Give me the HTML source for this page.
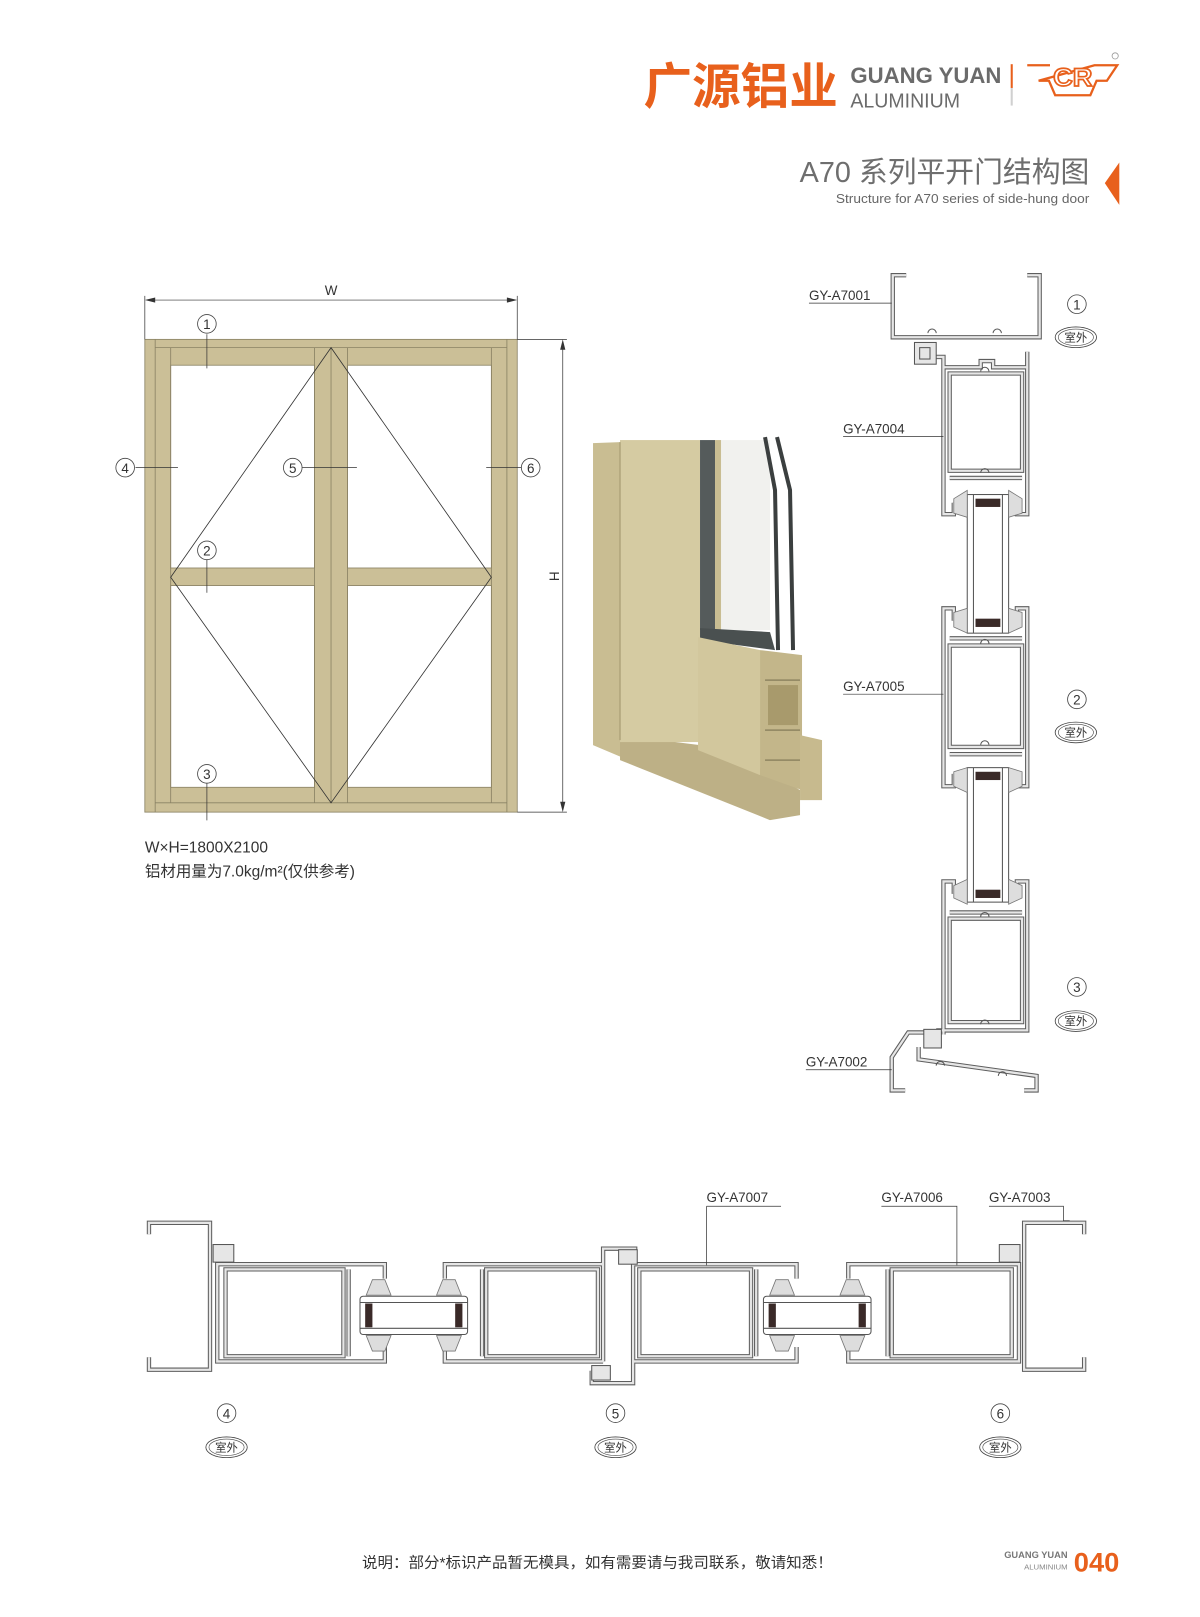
<!DOCTYPE html>
<html><head><meta charset="utf-8">
<style>
html,body{margin:0;padding:0;background:#fff;}
svg{display:block;}
.t{font-family:"Liberation Sans","Noto Sans CJK SC",sans-serif;}
.o{fill:none;stroke:#5e5e5e;stroke-width:4.2;stroke-linejoin:miter;}
.i{fill:none;stroke:#e6e6e6;stroke-width:2.2;stroke-linejoin:miter;}
</style></head>
<body>
<svg width="1200" height="1617" viewBox="0 0 1160 1563" xmlns="http://www.w3.org/2000/svg">
<defs>
<path id="v" d="M876,266 H863 V326 H1005 V266 H993
M905,345 H912 V497 H922 V486 M993,340 V497 H983 V486
M912,355 H948 V349 H960 V355 H993
M918,361 H988 V455 H918 Z M918,462 H988
M922,600 V588 H912 V760 H922 V748 M983,600 V588 H993 V760 H983 V748
M918,624 H988 V722 H918 Z M918,617 H988 M918,729 H988
M922,864 V852 H912 V1000 M983,864 V852 H993 V996 H905
M918,888 H988 V988 H918 Z M918,882 H988
M875,1054 H862 V1022 L878,998 H897 V1012 M888,1012 V1024 L1002,1040 V1054 H990"/>
<path id="h" d="M144,1193 V1182 H203 V1324 H144 V1312
M372,1236 V1222 H210 V1316 H372 V1302 M218,1227 V1311 H332 V1227 Z M337,1227 V1311
M430,1236 V1222 H583 M430,1302 V1316 H583 M466,1227 V1311 M470,1227 H578 V1311 H470 Z
M583,1316 V1207 H614 V1218 M612,1222 V1337 H572 V1325
M770,1236 V1222 H612 M770,1302 V1316 H612 M618,1227 H726 V1311 H618 Z M731,1227 V1311
M820,1236 V1222 H985 V1316 H820 V1302 M858,1227 V1311 M862,1227 H978 V1311 H862 Z
M1048,1193 V1182 H990 V1324 H1048 V1312"/>
</defs>

<!-- HEADER -->
<text class="t" x="622" y="100" font-size="47" font-weight="bold" fill="#e8601c" textLength="188" lengthAdjust="spacingAndGlyphs" style="font-family:'Noto Sans CJK SC',sans-serif">广源铝业</text>
<text class="t" x="822" y="80" font-size="21" font-weight="bold" fill="#6b6b6b" textLength="146" lengthAdjust="spacingAndGlyphs">GUANG YUAN</text>
<text class="t" x="822" y="104" font-size="20" fill="#6b6b6b" textLength="106" lengthAdjust="spacingAndGlyphs">ALUMINIUM</text>
<line x1="978" y1="62" x2="978" y2="85" stroke="#e8601c" stroke-width="2"/>
<line x1="978" y1="85" x2="978" y2="102" stroke="#d0d0d0" stroke-width="2"/>
<g fill="none" stroke="#e8601c" stroke-width="2.2">
<path d="M993,63 H1015 M1058,63 H1080 L1070,78 H1060 L1054,92 H1020 L1014,78 H1004 Z"/>
</g>
<text x="1037" y="83" font-family="Liberation Sans,sans-serif" font-size="24" font-weight="bold" fill="#fff" stroke="#e8601c" stroke-width="1.6" text-anchor="middle" textLength="38" lengthAdjust="spacingAndGlyphs">CR</text>
<circle cx="1078" cy="54" r="3" fill="none" stroke="#999" stroke-width="0.8"/>
<text class="t" x="1053" y="176" font-size="28" fill="#6e6e6e" text-anchor="end" textLength="280" lengthAdjust="spacingAndGlyphs">A70 系列平开门结构图</text>
<text class="t" x="1053" y="196" font-size="12.5" fill="#666" text-anchor="end" textLength="245" lengthAdjust="spacingAndGlyphs">Structure for A70 series of side-hung door</text>
<polygon points="1082,157 1082,198 1068,177" fill="#e8601c"/>

<!-- FRAME ELEVATION -->
<g stroke="#8a8264" stroke-width="0.8">
<rect x="140" y="328" width="360" height="457" fill="#cbbf97"/>
<rect x="165" y="353" width="139" height="196" fill="#fff"/>
<rect x="165" y="566" width="139" height="195" fill="#fff"/>
<rect x="336" y="353" width="139" height="196" fill="#fff"/>
<rect x="336" y="566" width="139" height="195" fill="#fff"/>
<path fill="none" d="M150,328 V785 M490,328 V785 M150,336 H490 M150,776 H490 M320,336 V776 M165,336 V776 M304,336 V776 M336,336 V776 M475,336 V776"/>
</g>
<path d="M320,336 L165,558 L320,776 L475,558 Z" fill="none" stroke="#333" stroke-width="0.8"/>
<g stroke="#333" stroke-width="0.7" fill="none">
<path d="M140,286 V328 M500,286 V328 M143,290 H497 M500,328 H548 M500,785 H548 M544,331 V782"/>
</g>
<polygon points="140,290 150,287.5 150,292.5" fill="#333"/>
<polygon points="500,290 490,287.5 490,292.5" fill="#333"/>
<polygon points="544,328 541.5,338 546.5,338" fill="#333"/>
<polygon points="544,785 541.5,775 546.5,775" fill="#333"/>
<text class="t" x="320" y="285" font-size="13" fill="#333" text-anchor="middle">W</text>
<text class="t" x="0" y="0" font-size="13" fill="#333" text-anchor="middle" transform="translate(531,557) rotate(90)">H</text>
<g stroke="#333" stroke-width="0.7">
<path d="M200,323 V356 M200,541 V573 M200,757 V793 M131,452 H172 M292,452 H345 M470,452 H504"/>
</g>
<g class="t" font-size="13" fill="#333" text-anchor="middle">
<circle cx="200" cy="313" r="9" fill="#fff" stroke="#444" stroke-width="0.8"/><text x="200" y="318">1</text>
<circle cx="200" cy="532" r="9" fill="#fff" stroke="#444" stroke-width="0.8"/><text x="200" y="537">2</text>
<circle cx="200" cy="748" r="9" fill="#fff" stroke="#444" stroke-width="0.8"/><text x="200" y="753">3</text>
<circle cx="121" cy="452" r="9" fill="#fff" stroke="#444" stroke-width="0.8"/><text x="121" y="457">4</text>
<circle cx="283" cy="452" r="9" fill="#fff" stroke="#444" stroke-width="0.8"/><text x="283" y="457">5</text>
<circle cx="513" cy="452" r="9" fill="#fff" stroke="#444" stroke-width="0.8"/><text x="513" y="457">6</text>
</g>
<text class="t" x="140" y="824" font-size="15" fill="#333">W×H=1800X2100</text>
<text class="t" x="140" y="847" font-size="15" fill="#333">铝材用量为7.0kg/m²(仅供参考)</text>

<!-- 3D RENDER -->
<g transform="scale(0.9667)">
<polygon points="593,443 620,442 620,735 770,800 770,820 593,745" fill="#c9bd92"/>
<polygon points="620,735 700,745 770,772 800,790 800,815 770,820 620,760" fill="#bdb086"/>
<rect x="620" y="440" width="80" height="302" fill="#d5cba2"/>
<line x1="620" y1="442" x2="620" y2="740" stroke="#a89c74" stroke-width="1.2"/>
<rect x="700" y="440" width="15" height="190" fill="#555b5b"/>
<rect x="715" y="440" width="55" height="190" fill="#f1f1ee"/>
<rect x="715" y="440" width="6" height="190" fill="#c9bd92"/>
<polygon points="700,628 770,632 775,650 700,640" fill="#4a5050"/>
<path d="M765,437 L775,490 L778,650 M777,437 L790,490 L793,650" stroke="#3b3f3f" stroke-width="4" fill="none"/>
<polygon points="698,637 760,650 760,775 698,750" fill="#d2c79d"/>
<polygon points="760,650 802,655 802,790 760,775" fill="#c3b68a"/>
<path d="M765,680 H800 M765,730 H800 M765,760 H800" stroke="#8f8562" stroke-width="1.5"/>
<rect x="768" y="685" width="30" height="40" fill="#a89a6c"/>
<polygon points="800,735 822,740 822,800 800,800" fill="#c7ba8e"/>
</g>

<!-- VERTICAL SECTION -->
<use href="#v" class="o"/>
<use href="#v" class="i"/>
<g fill="none" stroke="#555" stroke-width="1">
<rect x="884" y="331" width="21" height="21" fill="#e6e6e6"/>
<rect x="889" y="336" width="10" height="11"/>
<rect x="893" y="995" width="17" height="18" fill="#e6e6e6"/>
<path d="M897,322 a4,4 0 1,1 8,0 M960,322 a4,4 0 1,1 8,0 M948,359 a4,4 0 1,1 8,0 M948,457 a4,4 0 1,1 8,0 M948,622 a4,4 0 1,1 8,0 M948,720 a4,4 0 1,1 8,0 M948,886 a4,4 0 1,1 8,0 M948,990 a4,4 0 1,1 8,0 M905,1030 a4,4 0 1,1 8,0 M965,1040 a4,4 0 1,1 8,0"/>
</g>
<g stroke="#555" stroke-width="1">
<rect x="935" y="478" width="40" height="134" fill="#fff"/>
<rect x="935" y="742" width="40" height="130" fill="#fff"/>
<path d="M941,478 V612 M969,478 V612 M941,742 V872 M969,742 V872"/>
</g>
<g fill="#3a2a28">
<rect x="943" y="482" width="24" height="8"/><rect x="943" y="598" width="24" height="8"/>
<rect x="943" y="746" width="24" height="8"/><rect x="943" y="860" width="24" height="8"/>
</g>
<g fill="#ddd" stroke="#777" stroke-width="0.8">
<polygon points="922,482 935,474 935,500 922,496"/><polygon points="975,474 988,482 988,496 975,500"/>
<polygon points="922,592 935,588 935,612 922,606"/><polygon points="975,588 988,592 988,606 975,612"/>
<polygon points="922,746 935,742 935,766 922,760"/><polygon points="975,742 988,746 988,760 975,766"/>
<polygon points="922,856 935,850 935,874 922,868"/><polygon points="975,850 988,856 988,868 975,874"/>
</g>
<g class="t" font-size="13" fill="#333">
<text x="782" y="290">GY-A7001</text><path d="M782,293 H862" stroke="#333" stroke-width="0.7"/>
<text x="815" y="419">GY-A7004</text><path d="M815,422 H912" stroke="#333" stroke-width="0.7"/>
<text x="815" y="668">GY-A7005</text><path d="M815,671 H912" stroke="#333" stroke-width="0.7"/>
<text x="779" y="1031">GY-A7002</text><path d="M779,1034 H862" stroke="#333" stroke-width="0.7"/>
</g>

<!-- BOTTOM SECTION -->
<use href="#h" class="o"/>
<use href="#h" class="i"/>
<g fill="#e6e6e6" stroke="#555" stroke-width="1">
<rect x="206" y="1203" width="20" height="17"/><rect x="966" y="1203" width="20" height="17"/>
<rect x="598" y="1208" width="18" height="14"/><rect x="572" y="1320" width="18" height="14"/>
</g>
<g stroke="#555" stroke-width="1">
<rect x="348" y="1253" width="104" height="37" rx="3" fill="#fff"/>
<rect x="738" y="1253" width="104" height="37" rx="3" fill="#fff"/>
<path d="M348,1259 H452 M348,1284 H452 M738,1259 H842 M738,1284 H842"/>
</g>
<g fill="#3a2a28">
<rect x="353" y="1260" width="7" height="23"/><rect x="440" y="1260" width="7" height="23"/>
<rect x="743" y="1260" width="7" height="23"/><rect x="830" y="1260" width="7" height="23"/>
</g>
<g fill="#ddd" stroke="#777" stroke-width="0.8">
<polygon points="360,1237 372,1237 378,1252 354,1252"/><polygon points="354,1291 378,1291 372,1306 360,1306"/>
<polygon points="428,1237 440,1237 446,1252 422,1252"/><polygon points="422,1291 446,1291 440,1306 428,1306"/>
<polygon points="750,1237 762,1237 768,1252 744,1252"/><polygon points="744,1291 768,1291 762,1306 750,1306"/>
<polygon points="818,1237 830,1237 836,1252 812,1252"/><polygon points="812,1291 836,1291 830,1306 818,1306"/>
</g>
<g class="t" font-size="13" fill="#333">
<text x="683" y="1162">GY-A7007</text>
<text x="852" y="1162">GY-A7006</text>
<text x="956" y="1162">GY-A7003</text>
</g>
<g stroke="#333" stroke-width="0.7" fill="none">
<path d="M683,1166 H755 M683,1166 V1223 M852,1166 H925 V1223 M956,1166 H1028 V1180 H1034"/>
</g>

<g class="t" font-size="13" fill="#333" text-anchor="middle">
<g stroke="#444" stroke-width="0.8" fill="#fff">
<circle cx="1041" cy="294" r="9"/><circle cx="1041" cy="676" r="9"/><circle cx="1041" cy="954" r="9"/>
<circle cx="219" cy="1366" r="9"/><circle cx="595" cy="1366" r="9"/><circle cx="967" cy="1366" r="9"/>
<ellipse cx="1040" cy="326" rx="20" ry="10"/><ellipse cx="1040" cy="708" rx="20" ry="10"/><ellipse cx="1040" cy="987" rx="20" ry="10"/>
<ellipse cx="219" cy="1399" rx="20" ry="10"/><ellipse cx="595" cy="1399" rx="20" ry="10"/><ellipse cx="967" cy="1399" rx="20" ry="10"/>
</g>
<g stroke="#444" stroke-width="0.6" fill="none">
<ellipse cx="1040" cy="326" rx="17" ry="8"/><ellipse cx="1040" cy="708" rx="17" ry="8"/><ellipse cx="1040" cy="987" rx="17" ry="8"/>
<ellipse cx="219" cy="1399" rx="17" ry="8"/><ellipse cx="595" cy="1399" rx="17" ry="8"/><ellipse cx="967" cy="1399" rx="17" ry="8"/>
</g>
<text x="1041" y="299">1</text><text x="1041" y="681">2</text><text x="1041" y="959">3</text>
<text x="219" y="1371">4</text><text x="595" y="1371">5</text><text x="967" y="1371">6</text>
<g font-size="11"><text x="1040" y="330">室外</text><text x="1040" y="712">室外</text><text x="1040" y="991">室外</text>
<text x="219" y="1403">室外</text><text x="595" y="1403">室外</text><text x="967" y="1403">室外</text></g>
</g>

<!-- FOOTER -->
<text class="t" x="350" y="1515" font-size="14.5" fill="#333" textLength="455" lengthAdjust="spacingAndGlyphs">说明：部分*标识产品暂无模具，如有需要请与我司联系，敬请知悉！</text>
<text class="t" x="1032" y="1506" font-size="9" font-weight="bold" fill="#777" text-anchor="end">GUANG YUAN</text>
<text class="t" x="1032" y="1517" font-size="7.5" fill="#888" text-anchor="end">ALUMINIUM</text>
<text class="t" x="1038" y="1519" font-size="26" font-weight="bold" fill="#e8601c" textLength="44" lengthAdjust="spacingAndGlyphs">040</text>
</svg>
</body></html>
